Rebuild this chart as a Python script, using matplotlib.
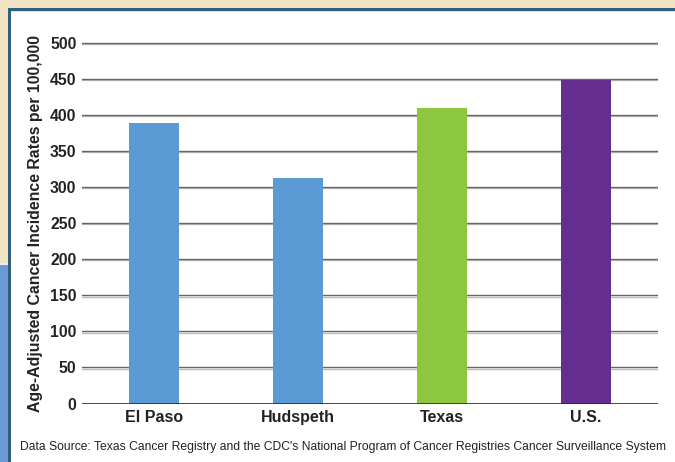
import matplotlib
matplotlib.use("Agg")
import matplotlib.pyplot as plt
import matplotlib.patheffects as pe
from matplotlib import font_manager
from matplotlib.patches import Rectangle

# Data
regions = ["El Paso", "Hudspeth", "Texas", "U.S."]
rates = [389, 312, 409, 449]
bar_colors = ["#5b9bd5", "#5b9bd5", "#8dc63f", "#662d91"]
y_ticks = [0, 50, 100, 150, 200, 250, 300, 350, 400, 450, 500]
y_label = "Age-Adjusted Cancer Incidence Rates per 100,000"
source_note = ("Data Source: Texas Cancer Registry and the CDC's National Program "
               "of Cancer Registries Cancer Surveillance System")

W, H = 675, 462
fig = plt.figure(figsize=(W / 100, H / 100), dpi=100)
fig.patch.set_facecolor("white")

def px_rect(x0, y0, x1, y1, color, z=0):
    """Rectangle given in pixel coordinates measured from the top-left."""
    fig.patches.append(Rectangle((x0 / W, 1 - y1 / H), (x1 - x0) / W, (y1 - y0) / H,
                                 transform=fig.transFigure, facecolor=color,
                                 edgecolor="none", zorder=z))

# Page background around the white panel
px_rect(0, 0, W, 9, "#f1e3c5")
px_rect(0, 0, 9, 263, "#f1e3c5")
px_rect(0, 263, 9, 265, "#e9eef5")
px_rect(0, 265, 9, H, "#6b9bd4")
# Panel border (top and left)
px_rect(9, 8, W, 11, "#2f6178")
px_rect(8, 8, 11, H, "#2f6178")
px_rect(11, 11, W, 12, "#d8e3e8")

# Plot area
left, right = 82 / W, 658 / W
bottom, top = 1 - 403.5 / H, 1 - 35.5 / H
ax = fig.add_axes([left, bottom, right - left, top - bottom])
ax.set_facecolor("none")
ax.set_xlim(-0.5, 3.5)
ax.set_ylim(0, 510)

# Horizontal gridlines with a light shadow underneath
for v in y_ticks[1:]:
    ax.axhline(v, color="#666666", lw=1.0, zorder=1,
               path_effects=[pe.SimpleLineShadow(offset=(0, -0.9), shadow_color="#bdbdbd", alpha=1),
                             pe.Normal()])
ax.axhline(0, color="#2a2a2a", lw=1.2, zorder=3)

ax.bar(range(len(regions)), rates, width=0.353, color=bar_colors, zorder=2)

for s in ax.spines.values():
    s.set_visible(False)
ax.set_xticks(range(len(regions)))
ax.set_xticklabels(regions, fontsize=11.5, fontweight="bold", color="#222222",
                   family="Liberation Sans")
ax.set_yticks(y_ticks)
ax.set_yticklabels([str(t) for t in y_ticks], fontsize=11.3, fontweight="bold",
                   color="#222222", family="Liberation Sans")
ax.tick_params(axis="both", length=0)
ax.tick_params(axis="y", pad=4)
ax.tick_params(axis="x", pad=5)

fig.text(36 / W, 1 - 223 / H, y_label, rotation=90, ha="center", va="center",
         fontsize=11.4, fontweight="bold", color="#222222", family="Liberation Sans")

# Source line: a narrow face when available, otherwise a smaller regular face
try:
    font_manager.findfont("Liberation Sans Narrow", fallback_to_default=False)
    note_family, note_size = ["Liberation Sans Narrow", "DejaVu Sans"], 10
except ValueError:
    note_family, note_size = ["Liberation Sans", "DejaVu Sans"], 8.7

fig.text(20 / W, 1 - 447 / H, source_note, ha="left", va="center",
         fontsize=note_size, color="#222222", family=note_family)

fig.savefig("out.png", dpi=100)
